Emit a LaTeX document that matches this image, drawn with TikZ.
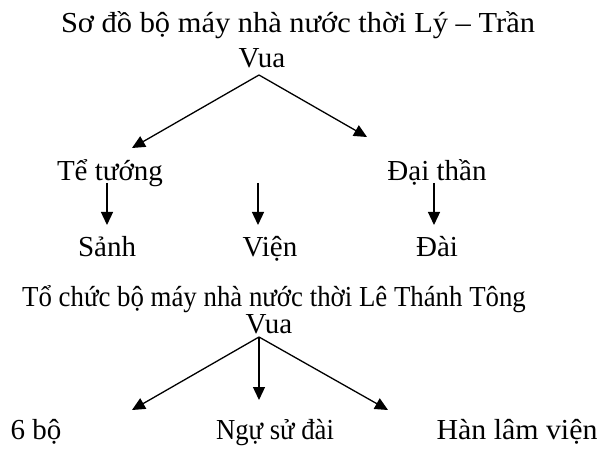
\documentclass[tikz,border=0pt]{standalone}
\usepackage{fontspec}
\setmainfont{Liberation Serif}
\usetikzlibrary{arrows.meta,calc}
\begin{document}
\begin{tikzpicture}[x=1pt,y=-1pt,
  lbl/.style={inner sep=0pt, anchor=base, font=\fontsize{29}{34}\selectfont},
  arr/.style={line width=1.3pt, -{Triangle[length=13pt,width=12pt]}}]
\useasboundingbox (0,0) rectangle (602,454);

% Ly - Tran
\node[lbl] (t1) at (298,33) {\scalebox{1.05}[1]{Sơ đồ bộ máy nhà nước thời Lý – Trần}};
\node[lbl] (v1) at (262,68) {Vua};
\node[lbl] (tt) at (110,181) {Tể tướng};
\node[lbl] (dt) at (437,181) {Đại thần};
\node[lbl] (sa) at (107,257) {Sảnh};
\node[lbl] (vi) at (270,257) {Viện};
\node[lbl] (da) at (437,257) {Đài};
\coordinate (mid) at (258,183);

\draw[arr] ($(v1.base)+(-3,7)$) -- ($(tt.base)+(22,-33)$);
\draw[arr] ($(v1.base)+(-3,7)$) -- ($(dt.base)+(-70,-44)$);
\draw[arr] ($(tt.base)+(-3,2)$) -- ($(sa.base)+(0,-32)$);
\draw[arr] (mid) -- ($(vi.base)+(-12,-32)$);
\draw[arr] ($(dt.base)+(-3,2)$) -- ($(da.base)+(-3,-32)$);

% Le Thanh Tong
\node[lbl] (t2) at (274,306) {\scalebox{0.925}[1]{Tổ chức bộ máy nhà nước thời Lê Thánh Tông}};
\node[lbl] (v2) at (269,333) {Vua};
\node[lbl] (b6) at (36,439) {6 bộ};
\node[lbl] (ns) at (275,439) {\scalebox{0.92}[1]{Ngự sử đài}};
\node[lbl] (hl) at (517,439) {\scalebox{1.03}[1]{Hàn lâm viện}};

\draw[arr] ($(v2.base)+(-10,4)$) -- ($(b6.base)+(96,-29)$);
\draw[arr] ($(v2.base)+(-10,4)$) -- ($(ns.base)+(-16,-39)$);
\draw[arr] ($(v2.base)+(-10,4)$) -- ($(hl.base)+(-129,-29)$);
\end{tikzpicture}
\end{document}
